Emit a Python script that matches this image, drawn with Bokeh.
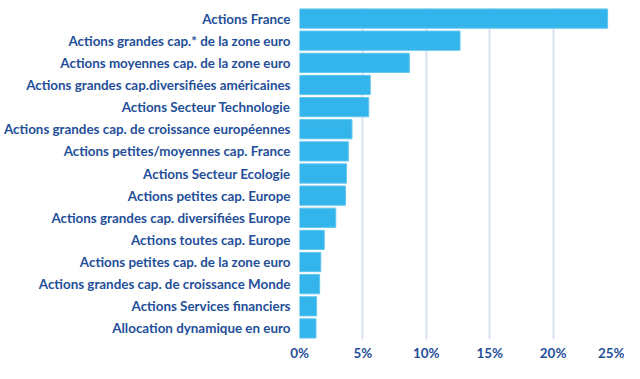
from bokeh.plotting import figure
from bokeh.models import FixedTicker, PrintfTickFormatter, ColumnDataSource, Range1d
from bokeh.embed import file_html
from bokeh.resources import INLINE

categories = [
    "Actions France",
    "Actions grandes cap.* de la zone euro",
    "Actions moyennes cap. de la zone euro",
    "Actions grandes cap.diversifiées américaines",
    "Actions Secteur Technologie",
    "Actions grandes cap. de croissance européennes",
    "Actions petites/moyennes cap. France",
    "Actions Secteur Ecologie",
    "Actions petites cap. Europe",
    "Actions grandes cap. diversifiées Europe",
    "Actions toutes cap. Europe",
    "Actions petites cap. de la zone euro",
    "Actions grandes cap. de croissance Monde",
    "Actions Services financiers",
    "Allocation dynamique en euro",
]
values = [24.3, 12.66, 8.66, 5.58, 5.46, 4.14, 3.85, 3.71, 3.63, 2.86, 1.95, 1.68, 1.59, 1.35, 1.30]
x_ticks = [0, 5, 10, 15, 20, 25]

TEXT = "#1f4f9a"
BAR = "#33b4eb"

src = ColumnDataSource(dict(cat=categories, val=values))

p = figure(
    width=624, height=363,
    y_range=list(reversed(categories)),
    x_range=Range1d(0, 25),
    output_backend="svg", toolbar_location=None, title=None,
    min_border_left=0, min_border_right=8, min_border_top=7, min_border_bottom=0,
)
p.outline_line_color = None
p.background_fill_color = "white"
p.border_fill_color = "white"

p.hbar(y="cat", right="val", left=0, height=0.87, source=src,
       fill_color=BAR, line_color="#62c6ef", line_width=1)

p.ygrid.grid_line_color = None
p.xgrid.grid_line_color = "#d6e3f2"
p.xgrid.grid_line_width = 2
p.xgrid.ticker = FixedTicker(ticks=x_ticks)
p.y_range.range_padding = 0

p.xaxis.ticker = FixedTicker(ticks=x_ticks)
p.xaxis.formatter = PrintfTickFormatter(format="%d%%")

for ax in (p.xaxis[0], p.yaxis[0]):
    ax.axis_line_color = None
    ax.major_tick_line_color = None
    ax.minor_tick_line_color = None
    ax.major_tick_out = 0
    ax.major_tick_in = 0
    ax.axis_label = None
    ax.axis_label_standoff = 0
    ax.major_label_text_font = "Lato"
    ax.major_label_text_font_style = "bold"
    ax.major_label_text_font_size = "13.4px"
    ax.major_label_text_color = TEXT

p.yaxis.major_label_standoff = 9
p.xaxis.major_label_standoff = 5

open("out.html", "w").write(file_html(p, INLINE))
